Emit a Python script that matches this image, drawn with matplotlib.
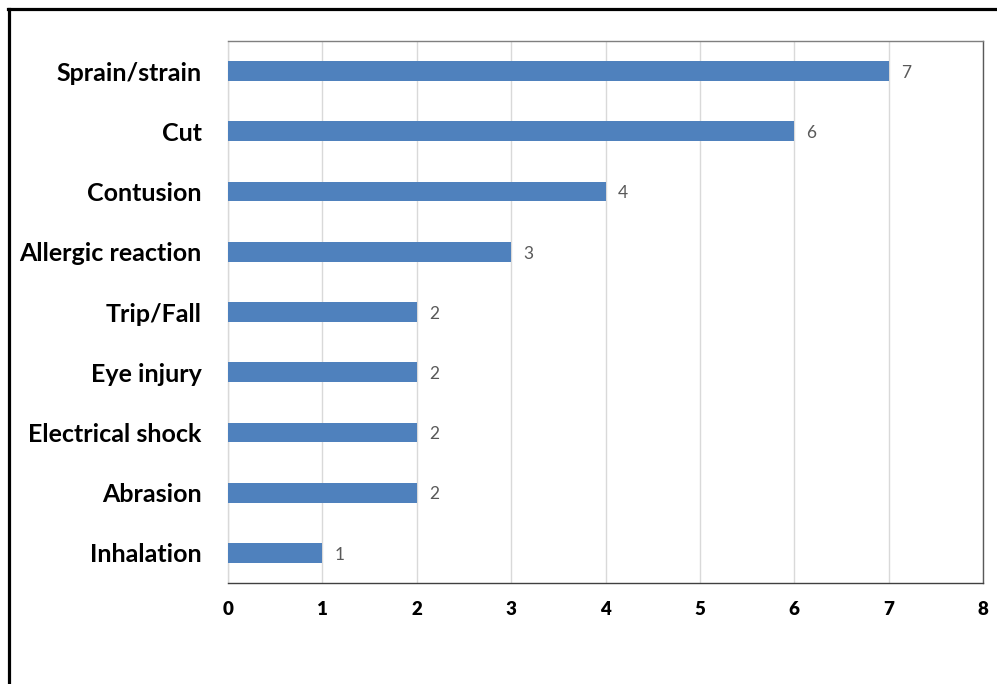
import matplotlib
matplotlib.use("Agg")
import matplotlib.pyplot as plt
from matplotlib.lines import Line2D

categories = ["Sprain/strain", "Cut", "Contusion", "Allergic reaction", "Trip/Fall",
              "Eye injury", "Electrical shock", "Abrasion", "Inhalation"]
counts = [7, 6, 4, 3, 2, 2, 2, 2, 1]
xticks = [0, 1, 2, 3, 4, 5, 6, 7, 8]

plt.rcParams['font.family'] = ['Lato', 'DejaVu Sans']

fig = plt.figure(figsize=(9.97, 6.84), dpi=100)
ax = fig.add_axes([228/997, 1 - 583/684, (983-228)/997, (583-41)/684])

ypos = list(range(len(categories)))
ax.barh(ypos, counts, height=0.33, color='#4F81BD', zorder=3)
for y, v in zip(ypos, counts):
    ax.text(v + 0.13, y + 0.03, str(v), va='center', ha='left', fontsize=12.5, color='#595959')

ax.set_xlim(0, 8)
ax.set_ylim(len(categories) - 0.5, -0.5)
ax.set_yticks(ypos)
ax.set_yticklabels(categories, fontsize=18, fontweight='bold')
ax.set_xticks(xticks)
ax.set_xticklabels([str(t) for t in xticks], fontsize=13.5, fontweight='heavy')
ax.tick_params(axis='y', length=0, pad=19)
ax.tick_params(axis='x', length=0, pad=13)
ax.grid(axis='x', color='#D9D9D9', linewidth=1, zorder=0)

ax.spines['left'].set_color('#D9D9D9')
ax.spines['top'].set_color('#7F7F7F')
ax.spines['right'].set_color('#595959')
ax.spines['bottom'].set_color('#404040')
for s in ax.spines.values():
    s.set_linewidth(1)

# outer frame (only left and top edges visible)
fig.add_artist(Line2D([9/997, 9/997], [0, 1 - 8.5/684], transform=fig.transFigure,
                      color='black', linewidth=2.3))
fig.add_artist(Line2D([8/997, 1], [1 - 8.5/684, 1 - 8.5/684], transform=fig.transFigure,
                      color='black', linewidth=2.3))

fig.savefig('out.png', dpi=100)
